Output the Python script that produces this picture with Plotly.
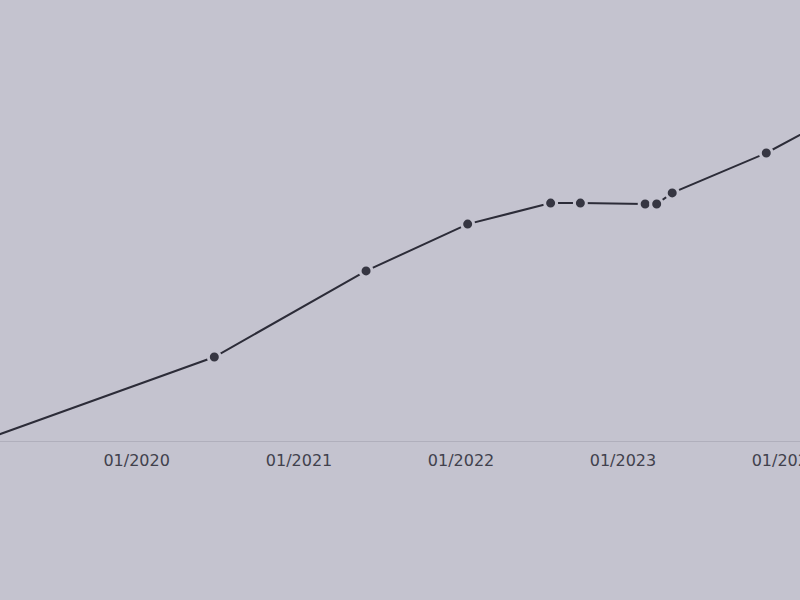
import plotly.graph_objects as go

dates = ["2019-01-15", "2020-06-24", "2021-06-01", "2022-01-16", "2022-07-22",
         "2022-09-27", "2023-02-20", "2023-03-18", "2023-04-22", "2023-11-20",
         "2024-05-01"]
values = [0.0, 28.0, 56.7, 72.3, 79.3, 79.3, 79.0, 79.0, 82.7, 96.0, 109.0]

tick_vals = ["2020-01-01", "2021-01-01", "2022-01-01", "2023-01-01", "2024-01-01"]
tick_text = ["01/2020", "01/2021", "01/2022", "01/2023", "01/2024"]

bg = "#c4c3cf"

fig = go.Figure()
fig.add_trace(go.Scatter(
    x=dates, y=values, mode="lines+markers",
    line=dict(color="#2c2c38", width=2),
    marker=dict(size=12, color="#363642", line=dict(color=bg, width=3)),
    cliponaxis=True, showlegend=False, hoverinfo="skip",
))

fig.update_layout(
    width=800, height=600,
    margin=dict(l=0, r=0, t=0, b=159),
    paper_bgcolor=bg, plot_bgcolor=bg,
    font=dict(family="DejaVu Sans, sans-serif", size=16, color="#41414d"),
    xaxis=dict(
        type="date", range=["2019-02-27", "2024-02-04"],
        tickvals=tick_vals, ticktext=tick_text,
        showgrid=False, zeroline=False,
        showline=True, linecolor="#b0afbc", linewidth=1,
        ticks="outside", ticklen=5, tickcolor=bg,
        ticklabeloverflow="allow", automargin=False,
    ),
    yaxis=dict(range=[0, 147], visible=False, showgrid=False, zeroline=False,
               automargin=False),
)

post = (
    "document.documentElement.style.margin='0';"
    "document.documentElement.style.overflow='hidden';"
    "document.body.style.margin='0';"
    "document.body.style.overflow='hidden';"
    "document.body.style.background='" + bg + "';"
)

fig.write_html("out.html",
               config={"displayModeBar": False, "responsive": False},
               post_script=post)
